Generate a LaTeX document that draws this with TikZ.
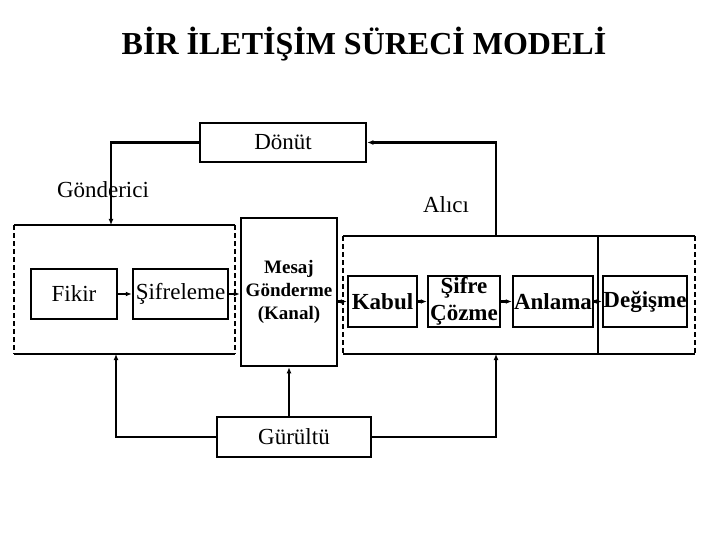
\documentclass[tikz,border=0pt]{standalone}
\usepackage{fontspec}
\setmainfont{Liberation Serif}
\usepackage{tikz}
\usetikzlibrary{arrows.meta}
\newcommand{\drawthick}{\draw[line width=2.5pt]}
\newcommand{\drawdash}{\draw[line width=2pt, dash pattern=on 5pt off 3pt]}
\tikzset{
  stagebox/.style={draw, line width=2.5pt, inner sep=0pt, minimum height=51pt},
  plain/.style={font=\fontsize{23}{27}\selectfont},
  boldtxt/.style={font=\bfseries\fontsize{23}{27}\selectfont},
  link/.style={line width=2.2pt, -{Latex[length=6pt,width=5pt]}},
  wire/.style={line width=2.2pt}
}
\begin{document}
\begin{tikzpicture}[x=1pt, y=-1pt]
\useasboundingbox (0,0) rectangle (720,540);
\node[font=\bfseries\fontsize{32}{36}\selectfont] (title) at (364,44) {BİR İLETİŞİM SÜRECİ MODELİ};
% sender and receiver frames
\drawthick (14,225)--(235,225);
\drawthick (14,354)--(235,354);
\drawdash (14,225)--(14,354);
\drawdash (235,225)--(235,354);
\drawthick (343,236)--(695,236);
\drawthick (343,354)--(695,354);
\drawdash (343,236)--(343,354);
\drawdash (695,236)--(695,354);
\drawthick (598,236)--(598,354);
\coordinate (sendtop) at (111,225);
\coordinate (sendbot) at (116,354);
\coordinate (recvtop) at (496,236);
\coordinate (recvbot) at (496,354);
\node[plain] (gonderici) at (103,190) {Gönderici};
\node[plain] (alici) at (446,205) {Alıcı};
% stages
\node[stagebox, plain, minimum width=86pt, minimum height=50pt] (fikir) at (74,294) {Fikir};
\node[stagebox, plain, minimum width=95pt, minimum height=50pt] (sifreleme) at (180.5,294) {Şifreleme};
\node[stagebox, align=center, minimum width=96pt, minimum height=148pt,
  font=\bfseries\fontsize{19}{23}\selectfont] (mesaj) at (289,292) {Mesaj\\Gönderme\\(Kanal)};
\node[stagebox, boldtxt, minimum width=69pt] (kabul) at (382.5,301.5) {Kabul};
\node[stagebox, boldtxt, align=center, minimum width=72pt] (cozme) at (464,301.5) {Şifre\\Çözme};
\node[stagebox, boldtxt, minimum width=80pt] (anlama) at (553,301.5) {Anlama};
\node[stagebox, boldtxt, minimum width=84pt] (degisme) at (645,301.5) {Değişme};
\node[stagebox, plain, minimum width=166pt, minimum height=39pt] (donut) at (283,142.5) {Dönüt};
\node[stagebox, plain, minimum width=154pt, minimum height=40pt] (gurultu) at (294,437) {Gürültü};
% flow
\draw[link] (fikir) -- (sifreleme);
\draw[link] (sifreleme.east) -- (mesaj.west |- sifreleme.east);
\draw[link] (mesaj.east |- kabul.west) -- (kabul.west);
\draw[link] (kabul) -- (cozme);
\draw[link] (cozme) -- (anlama);
\draw[link] (anlama) -- (degisme);
% feedback and noise
\draw[link] (recvtop) |- (donut.east);
\draw[link] (donut.west) -| (sendtop);
\draw[link] (gurultu.west) -| (sendbot);
\draw[link] (gurultu.north -| mesaj.south) -- (mesaj.south);
\draw[link] (gurultu.east) -| (recvbot);
\end{tikzpicture}
\end{document}
